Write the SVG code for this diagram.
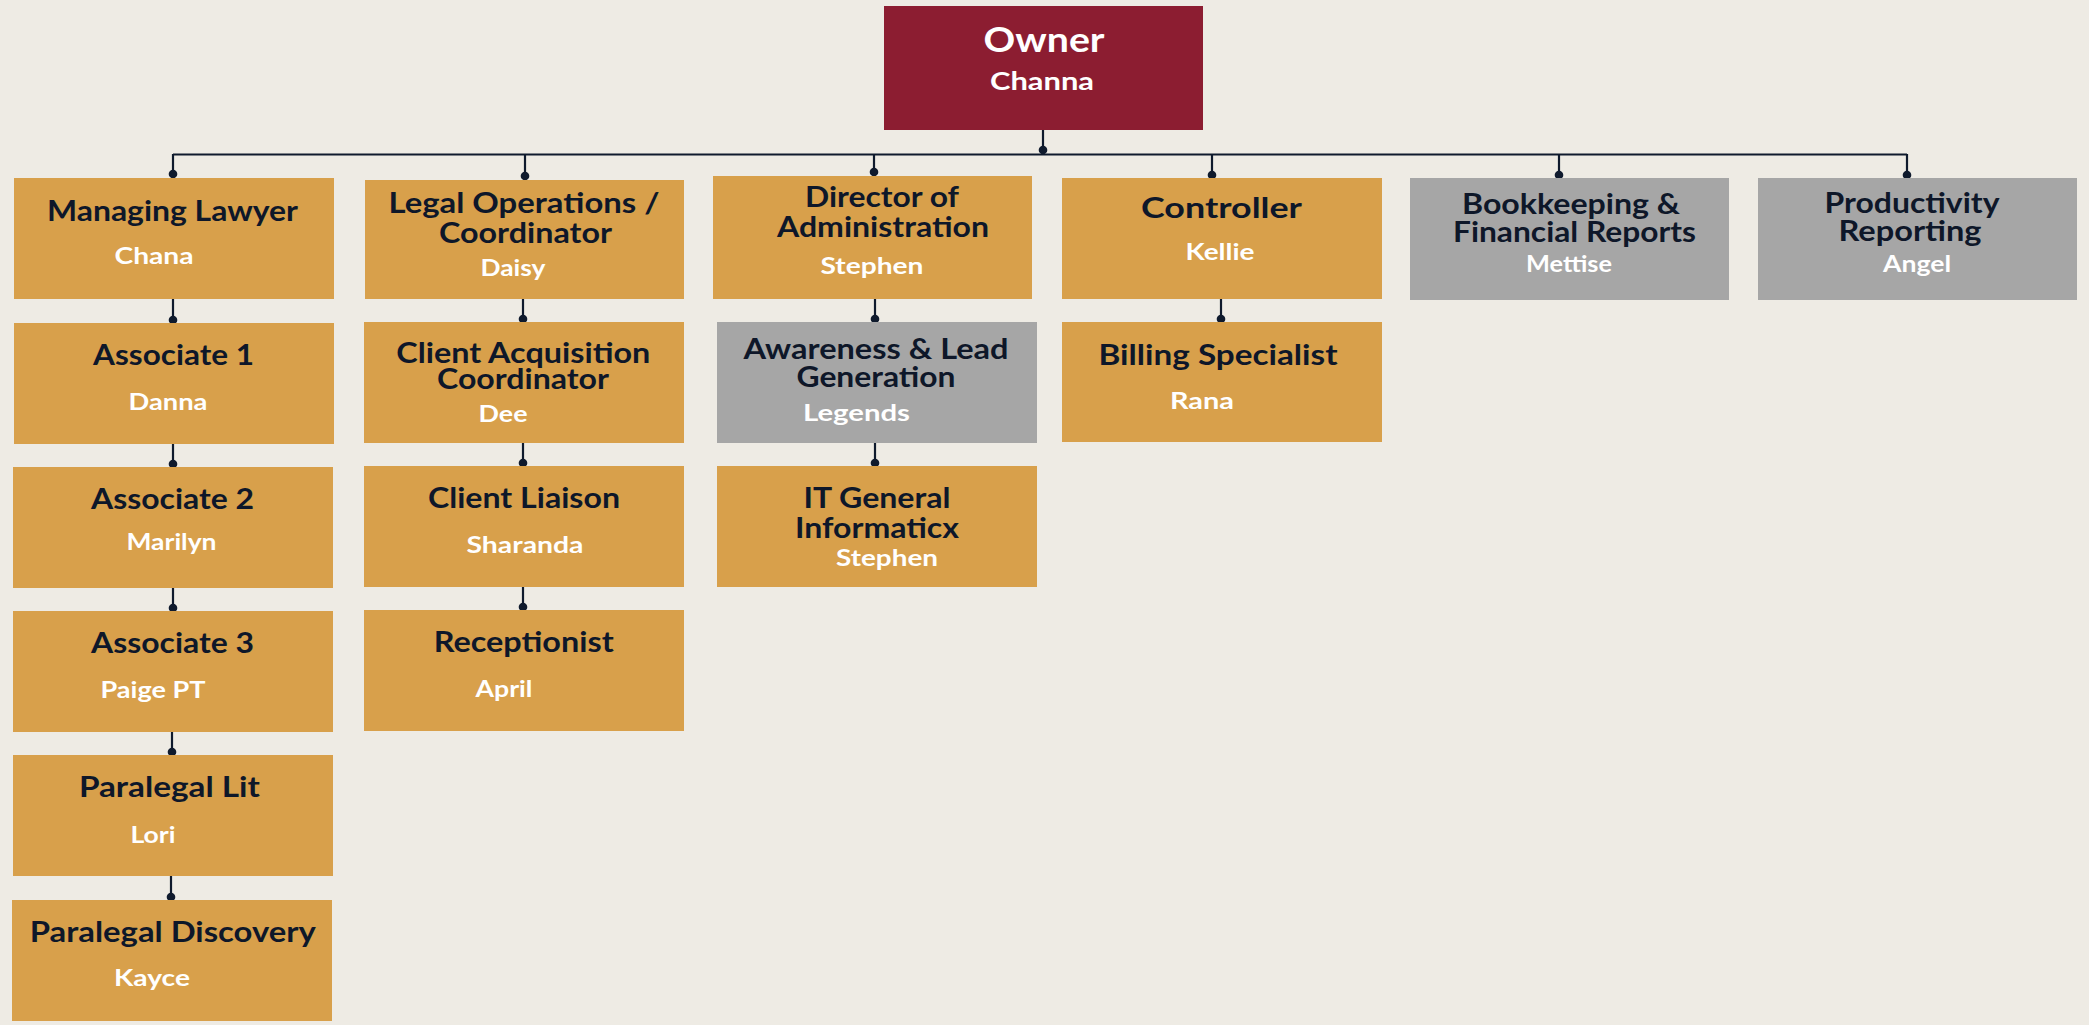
<svg xmlns="http://www.w3.org/2000/svg" width="2089" height="1025" viewBox="0 0 2089 1025">
<defs>
<marker id="dot" markerUnits="userSpaceOnUse" markerWidth="10" markerHeight="10" refX="5" refY="5" viewBox="0 0 10 10"><circle cx="5" cy="5" r="4.3" fill="#0F1A2D"/></marker>
<style>
.gold{fill:#D8A04B}
.gray{fill:#A6A6A6}
.red{fill:#8C1D31}
.t{font-family:Lato,"Liberation Sans",sans-serif;font-weight:700;font-size:28px;fill:#0E1729;text-anchor:middle}
.n{font-family:Lato,"Liberation Sans",sans-serif;font-weight:700;font-size:23px;fill:#FFFFFF;text-anchor:middle}
.c{fill:none;stroke:#0F1A2D;stroke-width:2.2}
.c2{fill:none;stroke:#0F1A2D;stroke-width:2.2;marker-end:url(#dot)}
</style>
</defs>
<rect width="2089" height="1025" fill="#EEEBE4"/>
<g id="connectors">
<path class="c" d="M173,154.5 H1907"/>
<path class="c2" d="M1043,130 V150"/>
<path class="c2" d="M173,154 V174"/>
<path class="c2" d="M525,154 V176"/>
<path class="c2" d="M874,154 V172"/>
<path class="c2" d="M1212,154 V175"/>
<path class="c2" d="M1559,154 V175"/>
<path class="c2" d="M1907,154 V175"/>
<path class="c2" d="M173,299 V320"/>
<path class="c2" d="M523,299 V319"/>
<path class="c2" d="M875,299 V319"/>
<path class="c2" d="M1221,299 V319"/>
<path class="c2" d="M173,444 V464"/>
<path class="c2" d="M523,443 V463"/>
<path class="c2" d="M875,443 V463"/>
<path class="c2" d="M173,588 V608"/>
<path class="c2" d="M523,587 V607"/>
<path class="c2" d="M172,732 V752"/>
<path class="c2" d="M171,876 V897"/>
</g>
<g id="owner"><rect class="red" x="884" y="6" width="319" height="124"/>
<text x="1044" y="52" font-family="Lato,'Liberation Sans',sans-serif" font-weight="700" font-size="34" fill="#fff" text-anchor="middle" textLength="121" lengthAdjust="spacingAndGlyphs">Owner</text>
<text class="n" x="1042" y="90" font-size="25" style="font-size:25px" textLength="104" lengthAdjust="spacingAndGlyphs">Channa</text></g>
<g id="managing-lawyer"><rect class="gold" x="14" y="178" width="320" height="121"/>
<text class="t" x="172.5" y="221" textLength="251" lengthAdjust="spacingAndGlyphs">Managing Lawyer</text>
<text class="n" x="154" y="264" textLength="79" lengthAdjust="spacingAndGlyphs">Chana</text></g>
<g id="legal-operations"><rect class="gold" x="365" y="180" width="319" height="119"/>
<text class="t" x="524" y="213" textLength="271" lengthAdjust="spacingAndGlyphs">Legal Operations /</text>
<text class="t" x="525.5" y="243" textLength="173" lengthAdjust="spacingAndGlyphs">Coordinator</text>
<text class="n" x="513" y="276" textLength="65" lengthAdjust="spacingAndGlyphs">Daisy</text></g>
<g id="director"><rect class="gold" x="713" y="176" width="319" height="123"/>
<text class="t" x="882" y="207" textLength="154" lengthAdjust="spacingAndGlyphs">Director of</text>
<text class="t" x="883" y="237" textLength="212" lengthAdjust="spacingAndGlyphs">Administration</text>
<text class="n" x="872" y="274" textLength="103" lengthAdjust="spacingAndGlyphs">Stephen</text></g>
<g id="controller"><rect class="gold" x="1062" y="178" width="320" height="121"/>
<text class="t" x="1221.5" y="218" textLength="161" lengthAdjust="spacingAndGlyphs">Controller</text>
<text class="n" x="1220" y="260" textLength="69" lengthAdjust="spacingAndGlyphs">Kellie</text></g>
<g id="bookkeeping"><rect class="gray" x="1410" y="178" width="319" height="122"/>
<text class="t" x="1571" y="214" textLength="218" lengthAdjust="spacingAndGlyphs">Bookkeeping &amp;</text>
<text class="t" x="1574.5" y="242" textLength="243" lengthAdjust="spacingAndGlyphs">Financial Reports</text>
<text class="n" x="1569" y="272" textLength="86" lengthAdjust="spacingAndGlyphs">Mettise</text></g>
<g id="productivity"><rect class="gray" x="1758" y="178" width="319" height="122"/>
<text class="t" x="1912" y="213" textLength="175" lengthAdjust="spacingAndGlyphs">Productivity</text>
<text class="t" x="1910" y="241" textLength="143" lengthAdjust="spacingAndGlyphs">Reporting</text>
<text class="n" x="1917" y="272" textLength="68" lengthAdjust="spacingAndGlyphs">Angel</text></g>
<g id="associate-1"><rect class="gold" x="14" y="323" width="320" height="121"/>
<text class="t" x="173.6" y="365" textLength="161" lengthAdjust="spacingAndGlyphs">Associate 1</text>
<text class="n" x="168" y="410" textLength="79" lengthAdjust="spacingAndGlyphs">Danna</text></g>
<g id="client-acquisition"><rect class="gold" x="364" y="322" width="320" height="121"/>
<text class="t" x="523.3" y="363" textLength="254" lengthAdjust="spacingAndGlyphs">Client Acquisition</text>
<text class="t" x="523" y="389" textLength="172" lengthAdjust="spacingAndGlyphs">Coordinator</text>
<text class="n" x="503" y="422" textLength="49" lengthAdjust="spacingAndGlyphs">Dee</text></g>
<g id="awareness"><rect class="gray" x="717" y="322" width="320" height="121"/>
<text class="t" x="876" y="359" textLength="265" lengthAdjust="spacingAndGlyphs">Awareness &amp; Lead</text>
<text class="t" x="876" y="387" textLength="159" lengthAdjust="spacingAndGlyphs">Generation</text>
<text class="n" x="856.5" y="421" textLength="107" lengthAdjust="spacingAndGlyphs">Legends</text></g>
<g id="billing"><rect class="gold" x="1062" y="322" width="320" height="120"/>
<text class="t" x="1218" y="365" textLength="239" lengthAdjust="spacingAndGlyphs">Billing Specialist</text>
<text class="n" x="1202" y="409" textLength="64" lengthAdjust="spacingAndGlyphs">Rana</text></g>
<g id="associate-2"><rect class="gold" x="13" y="467" width="320" height="121"/>
<text class="t" x="172.6" y="509" textLength="163" lengthAdjust="spacingAndGlyphs">Associate 2</text>
<text class="n" x="171.5" y="550" textLength="90" lengthAdjust="spacingAndGlyphs">Marilyn</text></g>
<g id="client-liaison"><rect class="gold" x="364" y="466" width="320" height="121"/>
<text class="t" x="524" y="508" textLength="192" lengthAdjust="spacingAndGlyphs">Client Liaison</text>
<text class="n" x="525" y="553" textLength="117" lengthAdjust="spacingAndGlyphs">Sharanda</text></g>
<g id="it-general"><rect class="gold" x="717" y="466" width="320" height="121"/>
<text class="t" x="877" y="508" textLength="147" lengthAdjust="spacingAndGlyphs">IT General</text>
<text class="t" x="877" y="538" textLength="164" lengthAdjust="spacingAndGlyphs">Informaticx</text>
<text class="n" x="887" y="566" textLength="102" lengthAdjust="spacingAndGlyphs">Stephen</text></g>
<g id="associate-3"><rect class="gold" x="13" y="611" width="320" height="121"/>
<text class="t" x="172.6" y="653" textLength="163" lengthAdjust="spacingAndGlyphs">Associate 3</text>
<text class="n" x="153" y="698" textLength="105" lengthAdjust="spacingAndGlyphs">Paige PT</text></g>
<g id="receptionist"><rect class="gold" x="364" y="610" width="320" height="121"/>
<text class="t" x="523.7" y="652" textLength="180" lengthAdjust="spacingAndGlyphs">Receptionist</text>
<text class="n" x="504" y="697" textLength="57" lengthAdjust="spacingAndGlyphs">April</text></g>
<g id="paralegal-lit"><rect class="gold" x="13" y="755" width="320" height="121"/>
<text class="t" x="169.4" y="797" textLength="181" lengthAdjust="spacingAndGlyphs">Paralegal Lit</text>
<text class="n" x="153" y="843" textLength="45" lengthAdjust="spacingAndGlyphs">Lori</text></g>
<g id="paralegal-discovery"><rect class="gold" x="12" y="900" width="320" height="121"/>
<text class="t" x="172.8" y="942" textLength="286" lengthAdjust="spacingAndGlyphs">Paralegal Discovery</text>
<text class="n" x="152" y="986" textLength="76" lengthAdjust="spacingAndGlyphs">Kayce</text></g>
</svg>
